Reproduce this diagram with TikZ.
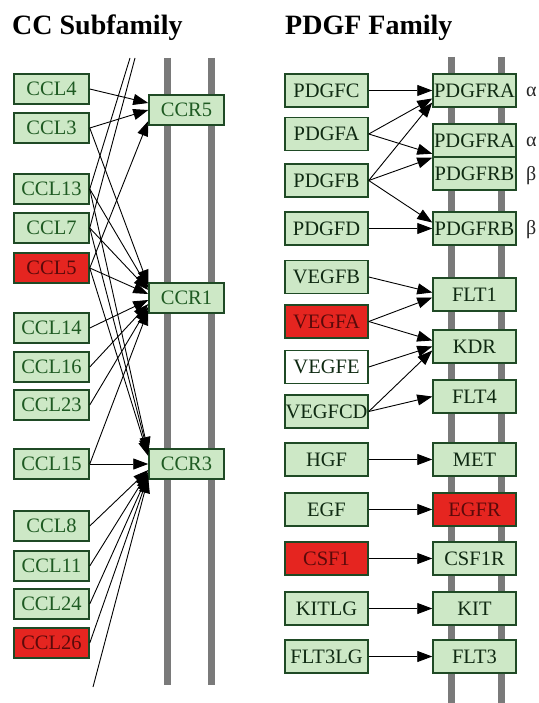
\documentclass[tikz,border=0pt]{standalone}
\usepackage{fontspec}
\setmainfont{Liberation Serif}
\usetikzlibrary{arrows.meta,calc}
\definecolor{boxfill}{HTML}{CDE8C6}
\definecolor{boxedge}{HTML}{1F4A25}
\definecolor{txtL}{HTML}{1E5A22}
\definecolor{txtR}{HTML}{0F2A12}
\definecolor{redfill}{HTML}{E52520}
\definecolor{redtxt}{HTML}{5A0A0A}
\definecolor{membrane}{HTML}{7A7A7A}
\begin{document}
\begin{tikzpicture}[x=1pt,y=-1pt,
 gbox/.style={draw=boxedge,line width=1.5pt,fill=boxfill,inner sep=0pt,font=\fontsize{20.5}{20.5}\selectfont},
 lbox/.style={gbox,minimum width=75pt,minimum height=30pt,text=txtL},
 rbox/.style={gbox,minimum width=83pt,minimum height=33pt,text=txtR},
 redbox/.style={fill=redfill,text=redtxt},
 whitebox/.style={fill=white},
 link/.style={line width=0.9pt,-{Triangle[length=15pt,width=11pt]}},
 plainlink/.style={line width=0.9pt},
 membranebar/.style={draw=membrane,line width=7pt},
 titletext/.style={font=\fontsize{28}{28}\selectfont\bfseries,anchor=base west,inner sep=0pt},
 greek/.style={font=\fontsize{20}{20}\selectfont,anchor=west,inner sep=0pt,text=black!85}
]
\fill[white] (0,0) rectangle (538,703);
\useasboundingbox (0,0) rectangle (538,703);

% titles
\node[titletext] (ttlL) at (12,35) {CC Subfamily};
\node[titletext] (ttlR) at (285,35) {PDGF Family};

% membranes
\draw[membranebar] (167,58) -- (167,685);
\draw[membranebar] (211,58) -- (211,685);
\draw[membranebar] (451,57) -- (451,703);
\draw[membranebar] (501,57) -- (501,703);

% left ligands
\node[lbox] (ccl4)  at (51.5,89)  {CCL4};
\node[lbox] (ccl3)  at (51.5,128) {CCL3};
\node[lbox] (ccl13) at (51.5,189) {CCL13};
\node[lbox] (ccl7)  at (51.5,228) {CCL7};
\node[lbox,redbox] (ccl5) at (51.5,268) {CCL5};
\node[lbox] (ccl14) at (51.5,328) {CCL14};
\node[lbox] (ccl16) at (51.5,367) {CCL16};
\node[lbox] (ccl23) at (51.5,405) {CCL23};
\node[lbox] (ccl15) at (51.5,464) {CCL15};
\node[lbox] (ccl8)  at (51.5,526) {CCL8};
\node[lbox] (ccl11) at (51.5,566) {CCL11};
\node[lbox] (ccl24) at (51.5,604) {CCL24};
\node[lbox,redbox] (ccl26) at (51.5,643) {CCL26};

% left receptors
\node[lbox] (ccr5) at (186.5,110) {CCR5};
\node[lbox] (ccr1) at (186.5,298) {CCR1};
\node[lbox] (ccr3) at (186.5,464) {CCR3};

% free ends
\coordinate (topA) at (130,58);
\coordinate (topB) at (135,58);
\coordinate (botA) at (93,687);

% left links
\draw[plainlink] (ccl13.east) -- (topA);
\draw[plainlink] (ccl7.east) -- (topB);

\draw[link] (ccl4.east) -- ($(ccr5.west)+(0,-7)$);
\draw[link] (ccl3.east) -- ($(ccr5.west)+(0,0)$);
\draw[link] (ccl5.east) -- ($(ccr5.west)+(0,11)$);

\draw[link] (ccl3.east)  -- ($(ccr1.west)+(0,-13)$);
\draw[link] (ccl13.east) -- ($(ccr1.west)+(0,-10)$);
\draw[link] (ccl7.east)  -- ($(ccr1.west)+(0,-8)$);
\draw[link] (ccl5.east)  -- ($(ccr1.west)+(0,-4)$);
\draw[link] (ccl14.east) -- ($(ccr1.west)+(0,2)$);
\draw[link] (ccl16.east) -- ($(ccr1.west)+(0,6)$);
\draw[link] (ccl23.east) -- ($(ccr1.west)+(0,9)$);
\draw[link] (ccl15.east) -- ($(ccr1.west)+(0,12)$);

\draw[link] (ccl13.east) -- ($(ccr3.west)+(0,-12)$);
\draw[link] (ccl7.east)  -- ($(ccr3.west)+(0,-10)$);
\draw[link] (ccl5.east)  -- ($(ccr3.west)+(0,-8)$);
\draw[link] (ccl15.east) -- (ccr3.west);
\draw[link] (ccl8.east)  -- ($(ccr3.west)+(0,6)$);
\draw[link] (ccl11.east) -- ($(ccr3.west)+(0,8)$);
\draw[link] (ccl24.east) -- ($(ccr3.west)+(0,10)$);
\draw[link] (ccl26.east) -- ($(ccr3.west)+(0,12)$);
\draw[link] (botA) -- ($(ccr3.west)+(0,14)$);

% right ligands
\node[rbox] (pdgfc) at (326.5,90.5)  {PDGFC};
\node[rbox] (pdgfa) at (326.5,134)   {PDGFA};
\node[rbox] (pdgfb) at (326.5,180.5) {PDGFB};
\node[rbox] (pdgfd) at (326.5,228.5) {PDGFD};
\node[rbox] (vegfb) at (326.5,277)   {VEGFB};
\node[rbox,redbox] (vegfa) at (326.5,321.5) {VEGFA};
\node[rbox,whitebox] (vegfe) at (326.5,367) {VEGFE};
\node[rbox] (vegfcd) at (326.5,411.5) {VEGFCD};
\node[rbox] (hgf)    at (326.5,459.5) {HGF};
\node[rbox] (egf)    at (326.5,509.5) {EGF};
\node[rbox,redbox] (csf1) at (326.5,558.5) {CSF1};
\node[rbox] (kitlg)  at (326.5,608.5) {KITLG};
\node[rbox] (flt3lg) at (326.5,656.5) {FLT3LG};

% right receptors
\node[rbox] (pdgfra1) at (474.5,90.5)  {PDGFRA};
\node[rbox] (pdgfra2) at (474.5,140.5) {PDGFRA};
\node[rbox] (pdgfrb1) at (474.5,173.5) {PDGFRB};
\node[rbox] (pdgfrb2) at (474.5,228.5) {PDGFRB};
\node[rbox] (flt1) at (474.5,294.5) {FLT1};
\node[rbox] (kdr)  at (474.5,346.5) {KDR};
\node[rbox] (flt4) at (474.5,396.5) {FLT4};
\node[rbox] (met)  at (474.5,459.5) {MET};
\node[rbox,redbox] (egfr) at (474.5,509.5) {EGFR};
\node[rbox] (csf1r) at (474.5,558.5) {CSF1R};
\node[rbox] (kit)  at (474.5,608.5) {KIT};
\node[rbox] (flt3) at (474.5,656.5) {FLT3};

% greek labels
\node[greek] (gA1) at (526,92)  {α};
\node[greek] (gA2) at (526,142) {α};
\node[greek] (gB1) at (526,176) {β};
\node[greek] (gB2) at (526,230) {β};

% right links
\draw[link] (pdgfc.east) -- (pdgfra1.west);
\draw[link] (pdgfa.east) -- ($(pdgfra1.west)+(0,8)$);
\draw[link] (pdgfb.east) -- ($(pdgfra1.west)+(0,12)$);
\draw[link] (pdgfa.east) -- ($(pdgfra2.south west)+(0,-4)$);
\draw[link] (pdgfb.east) -- (pdgfra2.south west);
\draw[link] (pdgfb.east) -- ($(pdgfrb2.west)+(0,-6)$);
\draw[link] (pdgfd.east) -- (pdgfrb2.west);

\draw[link] (vegfb.east) -- ($(flt1.west)+(0,-2)$);
\draw[link] (vegfa.east) -- ($(flt1.west)+(0,3)$);
\draw[link] (vegfa.east) -- ($(kdr.west)+(0,-6)$);
\draw[link] (vegfe.east) -- (kdr.west);
\draw[link] (vegfcd.east) -- ($(kdr.west)+(0,4)$);
\draw[link] (vegfcd.east) -- (flt4.west);

\draw[link] (hgf.east) -- (met.west);
\draw[link] (egf.east) -- (egfr.west);
\draw[link] (csf1.east) -- (csf1r.west);
\draw[link] (kitlg.east) -- (kit.west);
\draw[link] (flt3lg.east) -- (flt3.west);
\end{tikzpicture}
\end{document}
